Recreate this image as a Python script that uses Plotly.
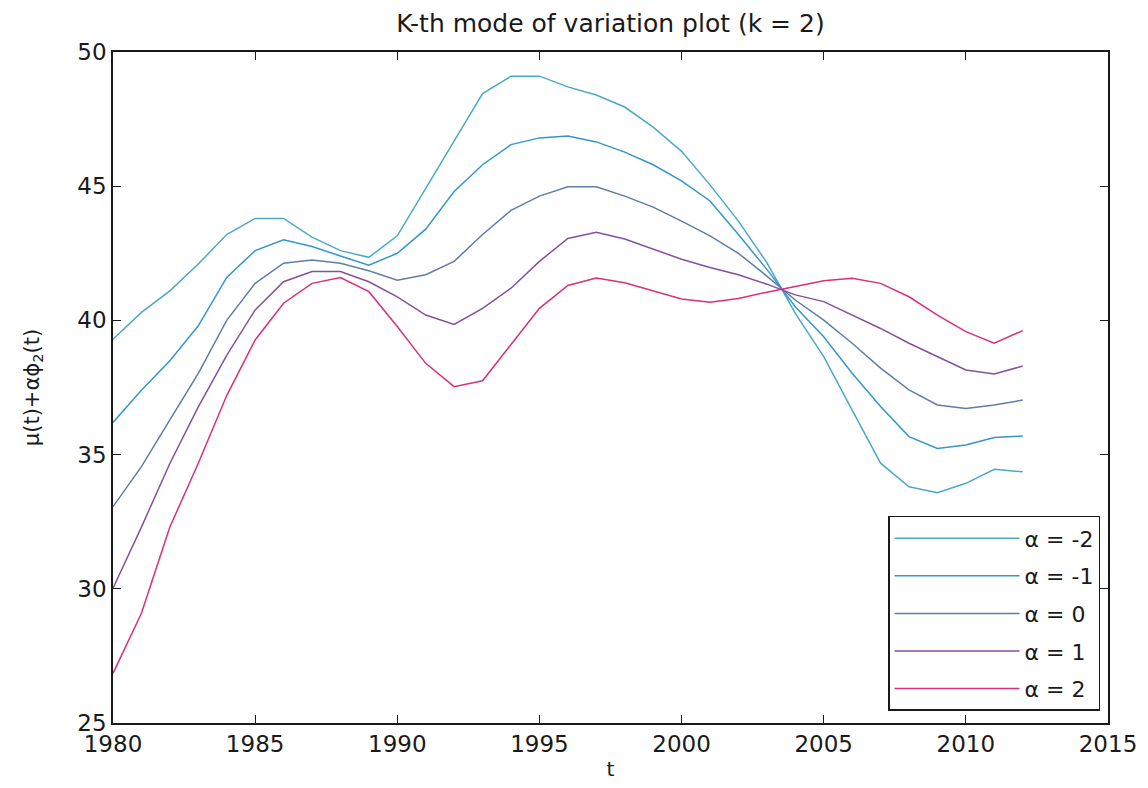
import plotly.graph_objects as go

years = list(range(1980, 2013))

alpha_m2 = [39.3, 40.3, 41.1, 42.1, 43.2, 43.8, 43.8, 43.1, 42.6, 42.35,
            43.15, 44.9, 46.7, 48.45, 49.1, 49.1, 48.7, 48.4, 47.95, 47.2,
            46.3, 45.05, 43.7, 42.15, 40.26, 38.65, 36.66, 34.68, 33.8, 33.58,
            33.93, 34.45, 34.36]
alpha_m1 = [36.2, 37.4, 38.5, 39.8, 41.6, 42.6, 43.0, 42.75, 42.4, 42.06,
            42.5, 43.4, 44.8, 45.8, 46.55, 46.8, 46.87, 46.65, 46.27, 45.8,
            45.2, 44.45, 43.2, 41.9, 40.51, 39.39, 38.03, 36.79, 35.67, 35.23,
            35.36, 35.64, 35.69]
alpha_0 = [33.06, 34.55, 36.29, 38.03, 40.0, 41.38, 42.13, 42.25, 42.13, 41.85,
           41.5, 41.7, 42.2, 43.2, 44.1, 44.63, 44.98, 44.98, 44.63, 44.22,
           43.7, 43.15, 42.5, 41.65, 40.76, 40.01, 39.15, 38.22, 37.41, 36.85,
           36.72, 36.85, 37.03]
alpha_p1 = [30.02, 32.3, 34.67, 36.78, 38.7, 40.39, 41.44, 41.82, 41.82, 41.44,
            40.88, 40.2, 39.85, 40.45, 41.2, 42.2, 43.05, 43.28, 43.03, 42.66,
            42.28, 41.97, 41.7, 41.35, 40.95, 40.7, 40.2, 39.7, 39.15, 38.65,
            38.15, 38.0, 38.3]
alpha_p2 = [26.85, 29.09, 32.3, 34.68, 37.2, 39.27, 40.64, 41.38, 41.6, 41.07,
            39.77, 38.4, 37.53, 37.75, 39.1, 40.45, 41.3, 41.58, 41.4, 41.1,
            40.8, 40.68, 40.82, 41.05, 41.26, 41.48, 41.57, 41.38, 40.88, 40.2,
            39.58, 39.15, 39.62]

series_names = ["α = -2", "α = -1", "α = 0", "α = 1", "α = 2"]
series_values = [alpha_m2, alpha_m1, alpha_0, alpha_p1, alpha_p2]
series_colors = ["#4ba8c8", "#3396cc", "#5f7ea6", "#86509a", "#d8307c"]

x_ticks = [1980, 1985, 1990, 1995, 2000, 2005, 2010, 2015]
y_ticks = [25, 30, 35, 40, 45, 50]

font_family = "DejaVu Sans, Verdana, sans-serif"
ink = "#1a1a1a"

fig = go.Figure()
for i, (name, vals, col) in enumerate(zip(series_names, series_values, series_colors)):
    fig.add_trace(go.Scatter(
        x=years, y=vals, mode="lines", name=name,
        legendgroup=f"g{i}",
        line=dict(color=col, width=1.5),
    ))

axis_common = dict(
    showgrid=False, zeroline=False, showline=True, linecolor=ink,
    linewidth=1.5, mirror="ticks", ticks="inside", ticklen=8, tickwidth=1.3,
    tickcolor=ink, tickfont=dict(family=font_family, size=23, color=ink),
)

fig.update_layout(
    width=1148, height=788,
    margin=dict(l=113, r=40, t=52, b=65),
    paper_bgcolor="white", plot_bgcolor="white",
    font=dict(family=font_family, color=ink),
    title=dict(text="K-th mode of variation plot (k = 2)",
               x=0.5, xanchor="center", xref="paper",
               y=1 - 23 / 788, yanchor="middle",
               font=dict(family=font_family, size=25, color=ink)),
    xaxis=dict(range=[1980, 2015], tickvals=x_ticks,
               title=dict(text="t", standoff=6,
                          font=dict(family=font_family, size=20, color=ink)),
               **axis_common),
    yaxis=dict(range=[25, 50], tickvals=y_ticks,
               title=dict(text="μ(t)+αϕ<sub>2</sub>(t)", standoff=32,
                          font=dict(family=font_family, size=21, color=ink)),
               **axis_common),
    legend=dict(x=0.992, y=0.018, xanchor="right", yanchor="bottom",
                bgcolor="white", bordercolor=ink, borderwidth=1.5,
                font=dict(family=font_family, size=22, color=ink),
                tracegroupgap=6, itemwidth=125),
    showlegend=True,
)

fig.write_html("out.html")
